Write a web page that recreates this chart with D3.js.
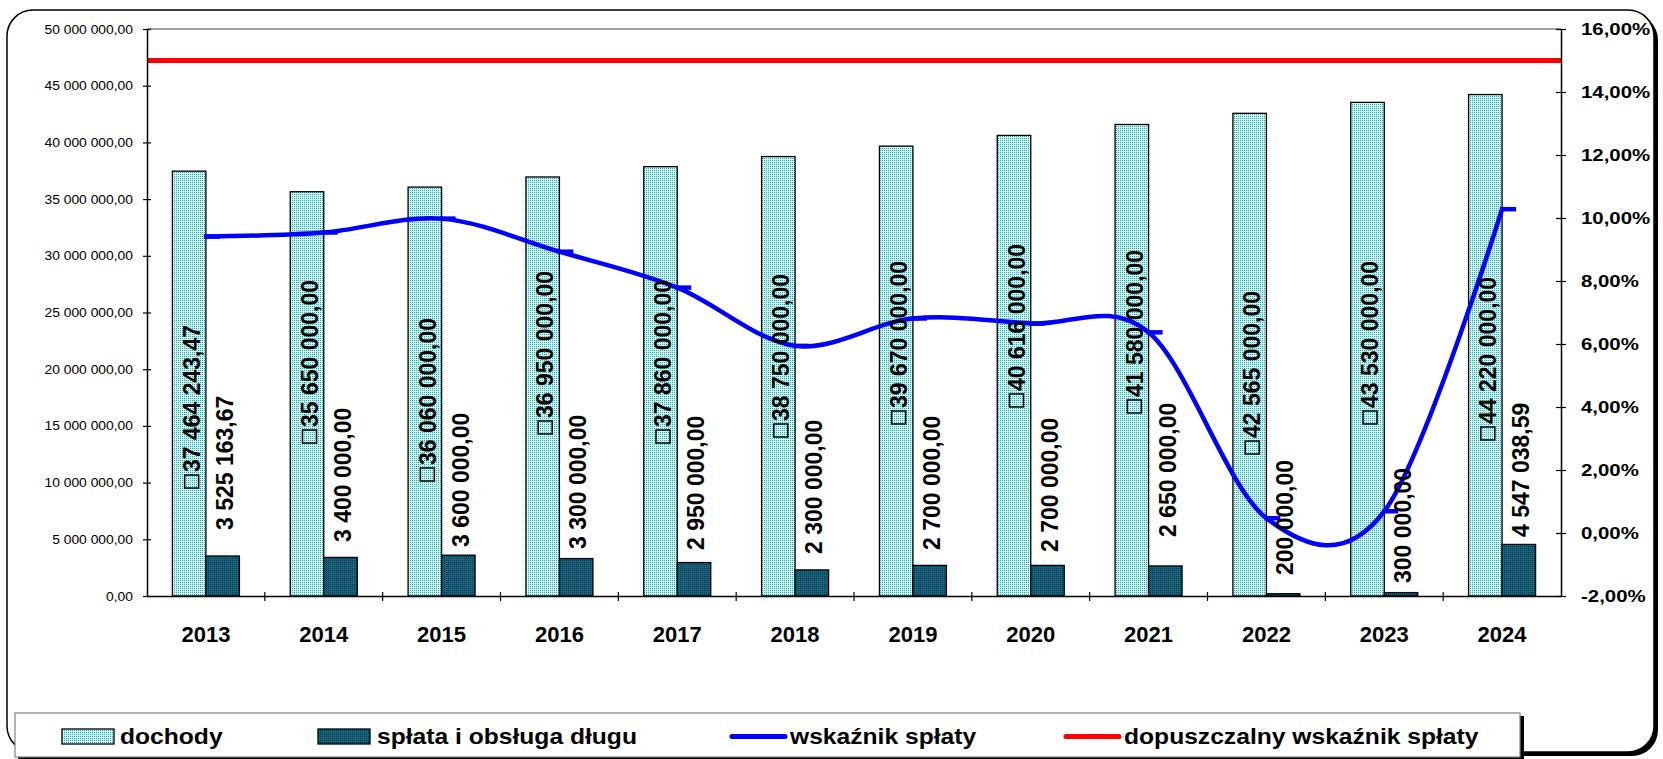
<!DOCTYPE html>
<html><head><meta charset="utf-8">
<script src="https://cdn.jsdelivr.net/npm/d3@7"></script>
<style>body{margin:0;background:#fff}svg{display:block;font-family:"Liberation Sans",Arial,sans-serif}</style>
</head><body><svg id="c" width="1663" height="759"></svg>
<script>
// ---------- data ----------
const years = ["2013","2014","2015","2016","2017","2018","2019","2020","2021","2022","2023","2024"];
const dochody = [37464243.47, 35650000, 36060000, 36950000, 37860000, 38750000, 39670000, 40616000, 41580000, 42565000, 43530000, 44220000];
const splata = [3525163.67, 3400000, 3600000, 3300000, 2950000, 2300000, 2700000, 2700000, 2650000, 200000, 300000, 4547038.59];
const wskaznik = [0.0941, 0.0954, 0.0998, 0.0893, 0.0779, 0.0594, 0.0681, 0.0665, 0.0637, 0.0047, 0.0069, 0.1028];
const dopuszczalny = [0.15, 0.15, 0.15, 0.15, 0.15, 0.15, 0.15, 0.15, 0.15, 0.15, 0.15, 0.15];
const leftTicks = [0, 5e6, 10e6, 15e6, 20e6, 25e6, 30e6, 35e6, 40e6, 45e6, 50e6];
const rightTicks = [-0.02, 0, 0.02, 0.04, 0.06, 0.08, 0.10, 0.12, 0.14, 0.16];
const seriesNames = ["dochody", "spłata i obsługa długu", "wskaźnik spłaty", "dopuszczalny wskaźnik spłaty"];
// where the (manually placed) data labels start, in axis units
const dochodyLabelAt = [9.52e6, 13.49e6, 10.14e6, 14.29e6, 13.49e6, 14.02e6, 15.17e6, 16.67e6, 16.14e6, 12.52e6, 15.17e6, 13.76e6];
const splataLabelAt = [5.82e6, 4.76e6, 4.32e6, 4.14e6, 4.06e6, 3.70e6, 4.06e6, 3.88e6, 5.20e6, 1.85e6, 1.15e6, 5.20e6];

// ---------- layout ----------
const L = 147, R = 1561, T = 29, B = 596;
const svg = d3.select("#c");
const defs = svg.append("defs");
function pat(id, bg, dot) {
  const p = defs.append("pattern").attr("id", id).attr("width", 2).attr("height", 2).attr("patternUnits", "userSpaceOnUse");
  p.append("rect").attr("width", 2).attr("height", 2).attr("fill", bg);
  p.append("rect").attr("width", 1).attr("height", 1).attr("fill", dot);
}
pat("pD", "#C6F8F8", "#3F9F9F");
pat("pS", "#006B85", "#00303E");

const loc = d3.formatLocale({decimal: ",", thousands: "\u00a0", grouping: [3], currency: ["", ""], percent: "%", minus: "-"});
const fmtMoney = v => loc.format(",.2f")(v).replace(/\u00a0/g, " ");
const fmtPct = loc.format(".2%");

// frame with shadow
svg.append("rect").attr("x", 11).attr("y", 14).attr("width", 1647).attr("height", 742).attr("rx", 26).attr("fill", "#000");
svg.append("rect").attr("x", 7).attr("y", 10).attr("width", 1647).attr("height", 742).attr("rx", 26)
  .attr("fill", "#fff").attr("stroke", "#000").attr("stroke-width", 1.5);

const x = d3.scaleBand().domain(years).range([L, R]).paddingInner(0).paddingOuter(0);
const yL = d3.scaleLinear().domain([0, 50e6]).range([B, T]);
const yR = d3.scaleLinear().domain([-0.02, 0.16]).range([B, T]);
const bw = x.bandwidth();
const barW = 33.5;
const cx = y => x(y) + bw / 2;

// plot border (top grey)
svg.append("line").attr("x1", L).attr("x2", R).attr("y1", T).attr("y2", T).attr("stroke", "#808080").attr("stroke-width", 1.5);

// bars
svg.append("g").selectAll("rect").data(years).join("rect")
  .attr("x", (d) => cx(d) - barW).attr("width", barW)
  .attr("y", (d, i) => yL(dochody[i])).attr("height", (d, i) => yL(0) - yL(dochody[i]))
  .attr("fill", "url(#pD)").attr("stroke", "#000").attr("stroke-width", 1.3);
svg.append("g").selectAll("rect").data(years).join("rect")
  .attr("x", (d) => cx(d)).attr("width", barW)
  .attr("y", (d, i) => yL(splata[i])).attr("height", (d, i) => yL(0) - yL(splata[i]))
  .attr("fill", "url(#pS)").attr("stroke", "#000").attr("stroke-width", 1.3);

// limit line (red)
svg.append("line").attr("x1", L).attr("x2", R)
  .attr("y1", yR(dopuszczalny[0])).attr("y2", yR(dopuszczalny[dopuszczalny.length - 1]))
  .attr("stroke", "#FF0000").attr("stroke-width", 5);

// ratio line (blue, smoothed)
const line = d3.line().x((d, i) => cx(years[i])).y(d => yR(d)).curve(d3.curveCardinal.tension(0));
svg.append("path").attr("d", line(wskaznik)).attr("fill", "none").attr("stroke", "#0000FF").attr("stroke-width", 4.5);
svg.append("g").selectAll("line").data(wskaznik).join("line")
  .attr("x1", (d, i) => cx(years[i]) - 2).attr("x2", (d, i) => cx(years[i]) + 14)
  .attr("y1", d => yR(d)).attr("y2", d => yR(d))
  .attr("stroke", "#0000FF").attr("stroke-width", 4.5);

// axes
const gL = svg.append("g").attr("transform", `translate(${L},0)`)
  .call(d3.axisLeft(yL).tickValues(leftTicks).tickFormat(fmtMoney).tickSizeOuter(0).tickPadding(8));
gL.select(".domain").attr("stroke", "#000").attr("stroke-width", 1.5);
gL.selectAll(".tick line").attr("x1", -4).attr("x2", 4).attr("stroke", "#000").attr("stroke-width", 1.2);
gL.selectAll(".tick text").attr("font-size", 12.6).attr("fill", "#000").attr("font-family", "Liberation Sans, Arial")
  .each(function() { const t = d3.select(this); const xx = +t.attr("x"); t.attr("x", 0).attr("transform", `translate(${xx},0) scale(1.1,1)`); });

const gR = svg.append("g").attr("transform", `translate(${R},0)`)
  .call(d3.axisRight(yR).tickValues(rightTicks).tickFormat(fmtPct).tickSizeOuter(0).tickPadding(14));
gR.select(".domain").attr("stroke", "#000").attr("stroke-width", 1.5);
gR.selectAll(".tick line").attr("x1", -5).attr("x2", 5).attr("stroke", "#000").attr("stroke-width", 1.2);
gR.selectAll(".tick text").attr("font-size", 17).attr("font-weight", "bold").attr("fill", "#000").attr("font-family", "Liberation Sans, Arial")
  .each(function() { const t = d3.select(this); const xx = +t.attr("x"); t.attr("x", 0).attr("transform", `translate(${xx},0) scale(1.2,1)`); });

const gX = svg.append("g").attr("transform", `translate(0,${B})`)
  .call(d3.axisBottom(x).tickSize(0).tickPadding(30));
gX.select(".domain").attr("stroke", "#000").attr("stroke-width", 1.5);
gX.selectAll(".tick text").attr("font-size", 22).attr("font-weight", "bold").attr("fill", "#000").attr("font-family", "Liberation Sans, Arial");
svg.append("g").selectAll("line").data(years.slice(1)).join("line")
  .attr("x1", d => x(d)).attr("x2", d => x(d)).attr("y1", B - 4).attr("y2", B + 5)
  .attr("stroke", "#000").attr("stroke-width", 1.2);

// data labels
const FS = 23;
const lblD = svg.append("g").selectAll("g").data(years).join("g")
  .attr("transform", (d, i) => `translate(${cx(d) - barW / 2 + 2.5},${yL(dochodyLabelAt[i])}) rotate(-90)`);
lblD.append("rect").attr("x", 0).attr("y", -7).attr("width", 13).attr("height", 14)
  .attr("fill", "none").attr("stroke", "#000").attr("stroke-width", 1.5);
lblD.append("text").attr("x", 16).attr("y", 8.2).attr("font-size", FS).attr("font-weight", "bold").attr("fill", "#000")
  .text((d, i) => fmtMoney(dochody[i]));
svg.append("g").selectAll("text").data(years).join("text")
  .attr("transform", (d, i) => `translate(${cx(d) + barW / 2 + 2},${yL(splataLabelAt[i])}) rotate(-90)`)
  .attr("y", 8.2).attr("font-size", FS).attr("font-weight", "bold").attr("fill", "#000")
  .text((d, i) => fmtMoney(splata[i]));

// legend
svg.append("rect").attr("x", 18).attr("y", 716).attr("width", 1506).attr("height", 46).attr("fill", "#000");
svg.append("rect").attr("x", 15).attr("y", 713).attr("width", 1505).attr("height", 44).attr("fill", "#fff").attr("stroke", "#808080").attr("stroke-width", 1.2);
const legItems = [
  {sx: 62, tx: 120, kind: "bar", fill: "url(#pD)"},
  {sx: 318, tx: 377, kind: "bar", fill: "url(#pS)"},
  {sx: 732, tx: 790, kind: "line", color: "#0000FF"},
  {sx: 1066, tx: 1124, kind: "line", color: "#FF0000"}
];
legItems.forEach((it, i) => {
  if (it.kind === "bar") {
    svg.append("rect").attr("x", it.sx).attr("y", 729).attr("width", 52).attr("height", 15)
      .attr("fill", it.fill).attr("stroke", "#000").attr("stroke-width", 1.3);
  } else {
    svg.append("line").attr("x1", it.sx).attr("x2", it.sx + 53).attr("y1", 736.5).attr("y2", 736.5)
      .attr("stroke", it.color).attr("stroke-width", 5).attr("stroke-linecap", "round");
  }
  svg.append("text").attr("transform", `translate(${it.tx},744) scale(1.12,1)`)
    .attr("font-size", 22).attr("font-weight", "bold").attr("fill", "#000").text(seriesNames[i]);
});
</script></body></html>
